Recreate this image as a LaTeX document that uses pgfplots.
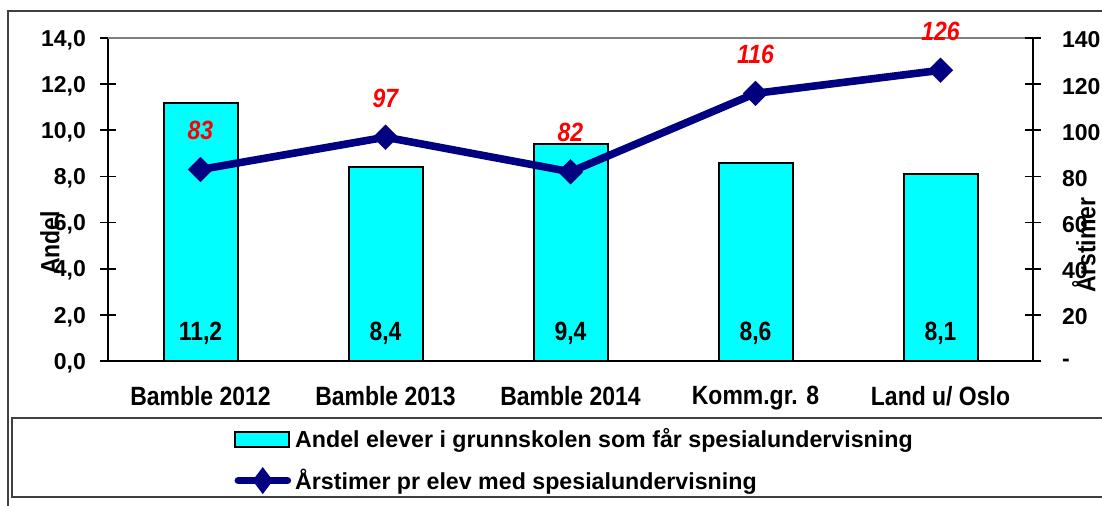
\documentclass[border=0pt]{standalone}
\usepackage{fontspec}
\setmainfont{Liberation Sans}
\newfontfamily\narrowfont{Liberation Sans}[FakeStretch=0.87]
\usepackage{pgfplots}
\pgfplotsset{compat=1.18}
\definecolor{barcyan}{RGB}{0,255,255}
\definecolor{navyline}{RGB}{0,0,128}
\newcommand{\tickfont}{\fontsize{11.5}{13}\selectfont\bfseries}
\newcommand{\lblfont}{\narrowfont\fontsize{13.2}{15}\selectfont\bfseries}
\newcommand{\legfont}{\fontsize{11.6}{13}\selectfont\bfseries}
\begin{document}
\begin{tikzpicture}[x=1pt,y=1pt]
\useasboundingbox (0,0) rectangle (551,253);
\draw[line width=0.7pt, black!75] (4,-5) -- (4,247.5) -- (560,247.5);
\draw[line width=0.7pt, black!75] (6,4.5) rectangle (560,44);
\begin{axis}[
  at={(54pt,72.5pt)}, anchor=south west, scale only axis,
  width=462.5pt, height=161.5pt,
  xmin=-0.5, xmax=4.5, ymin=0, ymax=14,
  axis x line*=bottom, axis y line*=left,
  axis line style={line width=1pt, -},
  /pgf/number format/assume math mode=true,
  ytick={0,2,4,6,8,10,12,14},
  yticklabel style={/pgf/number format/.cd, fixed, fixed zerofill, precision=1, use comma, /tikz/.cd, font=\tickfont, xshift=-3.5pt, yshift=-1pt},
  ytick style={line width=0.8pt, black},
  tick align=center, major tick length=8pt,
  xtick={0,1,2,3,4},
  xticklabels={Bamble 2012, Bamble 2013, Bamble 2014, Komm.gr. 8, Land u/ Oslo},
  xticklabel style={font=\lblfont, yshift=-5pt},
  x tick style={draw=none},
  extra x ticks={-0.5,0.5,1.5,2.5,3.5,4.5},
  extra x tick labels={},
  extra x tick style={tick align=outside, major tick length=5pt, tick style={draw=black, line width=0.8pt}},
  ylabel={Andel}, ylabel style={at={(axis description cs:-0.0627,0.365)}, anchor=center, rotate=0, font=\lblfont},
  clip=false,
]
\addplot[ybar, bar width=0.4, fill=barcyan, draw=black, line width=1pt] coordinates {(0,11.2) (1,8.4) (2,9.4) (3,8.6) (4,8.1)};
\addplot[draw=none, mark=none, point meta=explicit, nodes near coords={\pgfmathprintnumber[fixed,fixed zerofill,precision=1,use comma]{\pgfplotspointmeta}}, nodes near coords style={anchor=center, yshift=14pt, font=\lblfont, black}] coordinates {(0,0) [11.2] (1,0) [8.4] (2,0) [9.4] (3,0) [8.6] (4,0) [8.1]};
\draw[gray, line width=1pt] (rel axis cs:0,1) -- (rel axis cs:1,1);
\end{axis}
\begin{axis}[
  at={(54pt,72.5pt)}, anchor=south west, scale only axis,
  width=462.5pt, height=161.5pt,
  xmin=-0.5, xmax=4.5, ymin=0, ymax=140,
  axis x line=none, axis y line*=right,
  axis line style={line width=1pt, -},
  /pgf/number format/assume math mode=true,
  ytick={0,20,40,60,80,100,120,140},
  yticklabels={-,20,40,60,80,100,120,140},
  yticklabel style={font=\tickfont, xshift=7pt, yshift=-1pt},
  ytick style={line width=0.8pt, black},
  tick align=center, major tick length=8pt,
  ylabel={Årstimer}, ylabel style={at={(axis description cs:1.055,0.359)}, anchor=center, rotate=0, font=\lblfont},
  clip=false,
  legend style={at={(rel axis cs:0.134,-0.19)}, anchor=north west, draw=none, fill=none, font=\legfont, row sep=5pt, inner sep=1pt, nodes={inner xsep=2pt}},
  legend cell align=left,
]
\addlegendimage{legend image code/.code={\draw[fill=barcyan,draw=black,line width=1pt] (0pt,-3.8pt) rectangle (27pt,3.8pt);}}
\addlegendentry{Andel elever i grunnskolen som får spesialundervisning}
\addplot[navyline, line width=3.8pt, mark=square*, mark size=4.4pt, mark options={rotate=45, solid, fill=navyline, line width=0.1pt},
  legend image code/.code={\draw[navyline, line width=3.8pt, line cap=round] (1.5pt,0pt) -- (26pt,0pt); \fill[navyline] (13.7pt,-3.6pt) -- (16.4pt,0pt) -- (13.7pt,3.6pt) -- (11pt,0pt) -- cycle;}]
  coordinates {(0,83) (1,97) (2,82) (3,116) (4,126)};
\addlegendentry{Årstimer pr elev med spesialundervisning}
\addplot[forget plot, draw=none, mark=none, point meta=explicit, nodes near coords={\pgfmathprintnumber[int detect]{\pgfplotspointmeta}}, nodes near coords style={anchor=center, yshift=19.5pt, font=\lblfont\itshape, red}] coordinates {(0,83) [83] (1,97) [97] (2,82) [82] (3,116) [116] (4,126) [126]};
\end{axis}
\end{tikzpicture}
\end{document}
